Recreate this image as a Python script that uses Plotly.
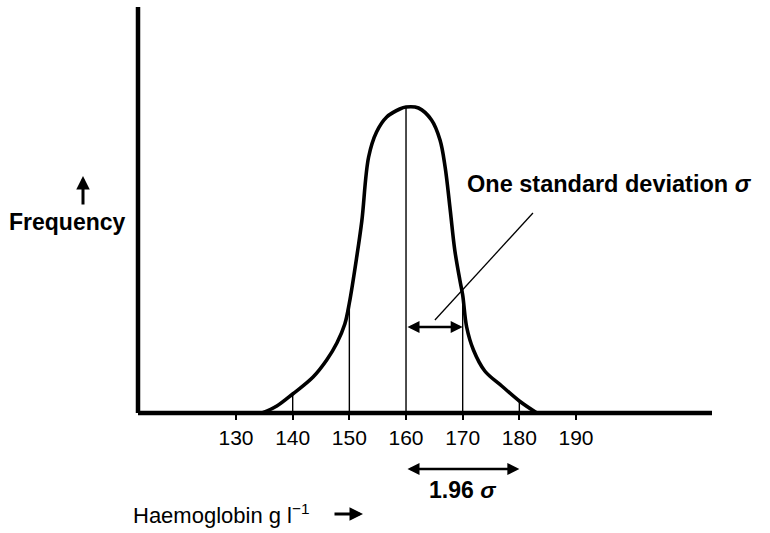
import plotly.graph_objects as go

# Haemoglobin distribution (g/l) against frequency (arbitrary units)
curve_x = [134.6, 137.2, 140.0, 143.6, 146.0, 147.8, 149.2, 150.0, 151.3, 152.2,
           153.4, 154.8, 156.6, 158.9, 160.0, 162.2, 164.5, 166.0, 166.9, 167.8,
           168.6, 169.5, 170.0, 170.7, 171.9, 173.9, 176.9, 180.0, 183.1]
curve_y = [0, 7, 19, 36, 53, 70, 89, 110, 156, 192,
           256, 281, 296, 304, 306, 305, 293, 273, 246, 203,
           163, 133, 118, 86, 63, 42, 27, 12, 0]

tick_vals = [130, 140, 150, 160, 170, 180, 190]
drop_x = [140, 150, 160, 170, 180]          # vertical lines under the curve
mean_hb = 160
sd_hb = 10
sd_arrow_y = 86                               # height of the one-SD arrow
leader_x = [165.1, 182.4]
leader_y = [93, 200]

W, H = 770, 533
ML, MR, MT, MB = 138, 58, 7, 120
X_RANGE = [112.7, 214.0]
Y_RANGE = [0, 406]

FONT = "Liberation Sans, Arial, Helvetica, sans-serif"
BOLD = "Liberation Sans, Arial, sans-serif"


def px(x):
    """pixel x -> paper x"""
    return (x - ML) / (W - ML - MR)


def py(y):
    """pixel y -> paper y"""
    return 1 - (y - MT) / (H - MT - MB)


lookup = dict(zip(curve_x, curve_y))
dx, dy = [], []
for v in drop_x:
    dx += [v, v, None]
    dy += [0, lookup[v], None]

fig = go.Figure()
fig.add_trace(go.Scatter(x=dx, y=dy, mode="lines",
                         line=dict(color="black", width=1.4),
                         hoverinfo="skip", showlegend=False))
fig.add_trace(go.Scatter(x=curve_x, y=curve_y, mode="lines",
                         line=dict(color="black", width=3.6, shape="spline", smoothing=1.0),
                         showlegend=False))
fig.add_trace(go.Scatter(x=leader_x, y=leader_y, mode="lines",
                         line=dict(color="black", width=1.3),
                         hoverinfo="skip", showlegend=False))

shapes = [
    dict(type="line", xref="paper", yref="paper", x0=0, x1=1, y0=0, y1=0,
         line=dict(color="black", width=4.5)),
    dict(type="line", xref="paper", yref="paper", x0=0, x1=0, y0=0, y1=1,
         line=dict(color="black", width=4.5)),
]

annotations = [
    dict(text="<b>Frequency</b>", xref="paper", yref="paper", x=px(7), y=py(222),
         xanchor="left", yanchor="middle", showarrow=False,
         font=dict(family=BOLD, size=23, color="black")),
    dict(text="", xref="paper", yref="paper", x=px(83), y=py(176),
         ax=0, ay=30, showarrow=True, arrowhead=2, arrowsize=0.9, arrowwidth=3,
         arrowcolor="black"),
    dict(text="<b>One standard deviation <i>σ</i></b>", xref="paper", yref="paper",
         x=px(465), y=py(184), xanchor="left", yanchor="middle", showarrow=False,
         font=dict(family=BOLD, size=23.5, color="black")),
    dict(text="", x=mean_hb + sd_hb, y=sd_arrow_y, xref="x", yref="y",
         ax=mean_hb, ay=sd_arrow_y, axref="x", ayref="y", showarrow=True,
         arrowside="end+start", arrowhead=2, arrowsize=1.0, arrowwidth=2.4,
         arrowcolor="black"),
    dict(text="", x=mean_hb + 2 * sd_hb, y=py(469), xref="x", yref="paper",
         ax=mean_hb, ay=0, axref="x", ayref="pixel", showarrow=True,
         arrowside="end+start", arrowhead=2, arrowsize=1.0, arrowwidth=2.4,
         arrowcolor="black"),
    dict(text="<b>1.96 <i>σ</i></b>", x=mean_hb + sd_hb, y=py(490), xref="x", yref="paper",
         xanchor="center", yanchor="middle", showarrow=False,
         font=dict(family=BOLD, size=23, color="black")),
    dict(text="Haemoglobin g l<sup>−1</sup>", xref="paper", yref="paper",
         x=px(131), y=py(514), xanchor="left", yanchor="middle", showarrow=False,
         font=dict(family=FONT, size=22, color="black")),
    dict(text="", xref="paper", yref="paper", x=px(363), y=py(514),
         ax=-30, ay=0, showarrow=True, arrowhead=2, arrowsize=0.9, arrowwidth=3,
         arrowcolor="black"),
]

fig.update_layout(
    width=W, height=H,
    margin=dict(l=ML, r=MR, t=MT, b=MB, pad=0),
    paper_bgcolor="white", plot_bgcolor="white",
    shapes=shapes, annotations=annotations,
    showlegend=False,
    xaxis=dict(range=X_RANGE, showgrid=False, zeroline=False, showline=False,
               tickmode="array", tickvals=tick_vals, ticktext=[str(v) for v in tick_vals],
               ticks="outside", ticklen=6, tickwidth=1.5, tickcolor="black",
               tickfont=dict(family=FONT, size=21, color="black"),
               fixedrange=True),
    yaxis=dict(range=Y_RANGE, showgrid=False, zeroline=False, showline=False,
               showticklabels=False, ticks="", fixedrange=True),
)

fig.write_html("out.html")
